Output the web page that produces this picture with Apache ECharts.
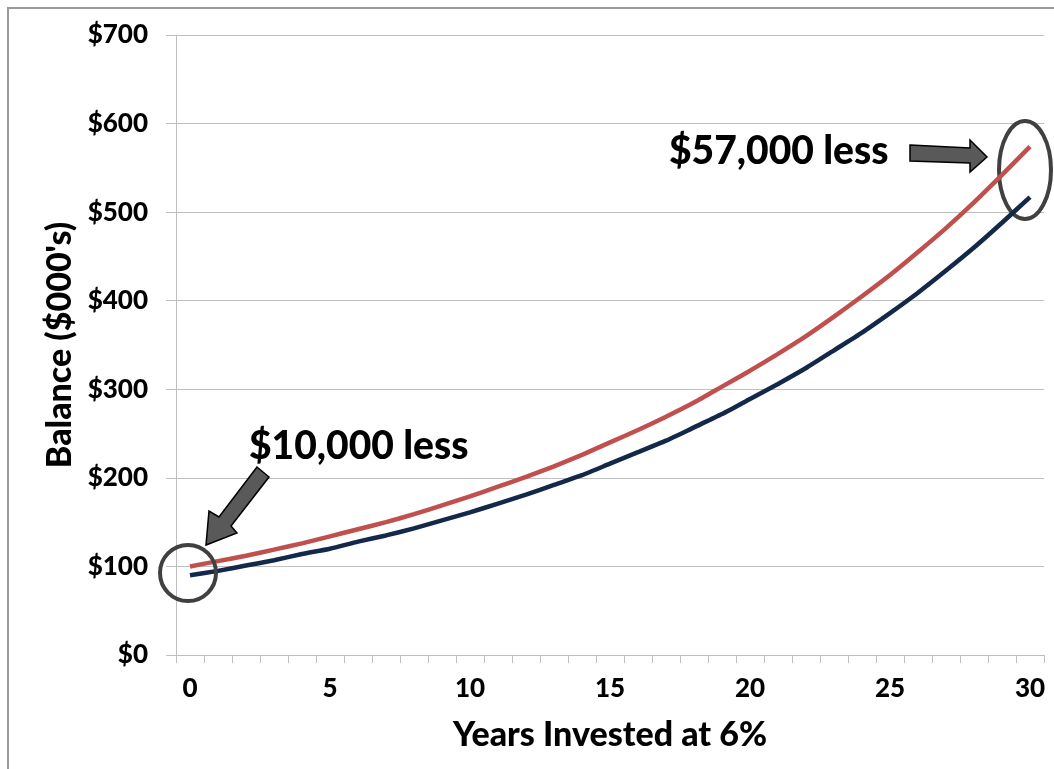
<!DOCTYPE html>
<html>
<head>
<meta charset="utf-8">
<script src="https://cdn.jsdelivr.net/npm/echarts@6/dist/echarts.min.js"></script>
<style>
  html, body { margin: 0; padding: 0; background: #fff; }
  #chart { width: 1054px; height: 769px; }
</style>
</head>
<body>
<div id="chart"></div>
<script>
// years on the x axis
const years = ['0','1','2','3','4','5','6','7','8','9','10','11','12','13','14','15',
  '16','17','18','19','20','21','22','23','24','25','26','27','28','29','30']

// balance in $000's
const balanceRed = [100, 106, 112, 119, 126, 134, 142, 150, 159, 169, 179, 190, 201, 213, 226, 240,
  254, 269, 285, 303, 321, 340, 360, 382, 405, 429, 455, 482, 511, 542, 574]
const balanceNavy = [90, 95, 101, 107, 114, 120, 128, 135, 143, 152, 161, 171, 181, 192, 203, 216,
  229, 242, 257, 272, 289, 306, 324, 344, 364, 386, 409, 434, 460, 488, 517]

const yTicks = [0, 100, 200, 300, 400, 500, 600, 700]

const font = 'Lato'
const chart = echarts.init(document.getElementById('chart'))

const option = {
  animation: false,
  grid: { left: 176, right: 10, top: 35, bottom: 114 },
  xAxis: {
    type: 'category',
    data: years,
    boundaryGap: true,
    name: 'Years Invested at 6%',
    nameLocation: 'middle',
    nameGap: 63,
    nameTextStyle: { fontFamily: font, fontWeight: 900, fontSize: 34, color: '#000' },
    axisLine: { lineStyle: { color: '#bfbfbf', width: 1 } },
    axisTick: { show: true, interval: 0, length: 8, lineStyle: { color: '#bfbfbf' } },
    axisLabel: { interval: 4, margin: 21, fontFamily: font, fontWeight: 900, fontSize: 26, color: '#000' },
    splitLine: { show: false }
  },
  yAxis: {
    type: 'value',
    min: yTicks[0],
    max: yTicks[yTicks.length - 1],
    interval: 100,
    name: "Balance ($000's)",
    nameLocation: 'middle',
    nameGap: 96,
    nameTextStyle: { fontFamily: font, fontWeight: 900, fontSize: 34, color: '#000' },
    axisLine: { show: true, lineStyle: { color: '#bfbfbf', width: 1 } },
    axisTick: { show: true, length: 10, lineStyle: { color: '#bfbfbf' } },
    axisLabel: { margin: 28, fontFamily: font, fontWeight: 900, fontSize: 26, color: '#000',
      formatter: v => '$' + v },
    splitLine: { lineStyle: { color: '#bfbfbf', width: 1 } }
  },
  series: [
    {
      name: 'Full',
      type: 'line',
      data: balanceRed,
      symbol: 'none',
      smooth: 0.2,
      z: 3,
      lineStyle: { color: '#c0504d', width: 4.5 }
    },
    {
      name: 'Less',
      type: 'line',
      data: balanceNavy,
      symbol: 'none',
      smooth: 0.2,
      z: 3,
      lineStyle: { color: '#14284a', width: 4.5 }
    }
  ],
  graphic: [
    // outer frame
    { type: 'rect', shape: { x: 8, y: 8, width: 1060, height: 780 }, silent: true, z: 0,
      style: { fill: 'none', stroke: '#9a9a9a', lineWidth: 2 } },
    // right ellipse (white fill hides the gridlines)
    { type: 'ellipse', shape: { cx: 1025, cy: 170, rx: 26, ry: 49 }, z: 1,
      style: { fill: '#fff', stroke: '#404040', lineWidth: 4 } },
    // left circle
    { type: 'circle', shape: { cx: 188, cy: 573, r: 28 }, z: 4,
      style: { fill: 'none', stroke: '#404040', lineWidth: 4 } },
    // arrows
    { type: 'polygon', z: 4,
      shape: { points: [[910,145],[970,148],[970,140],[987,157],[970,172],[970,163],[910,161]] },
      style: { fill: '#595959', stroke: '#000', lineWidth: 1.5 } },
    { type: 'polygon', z: 4,
      shape: { points: [[257,467],[219,517],[209,511],[206,545],[237,533],[231,526],[269,477]] },
      style: { fill: '#595959', stroke: '#000', lineWidth: 1.5 } },
    // annotation text
    { type: 'text', left: 669, top: 132, z: 4,
      style: { text: '$57,000 less', fontFamily: font, fontWeight: 900, fontSize: 39, fill: '#000' } },
    { type: 'text', left: 249, top: 427, z: 4,
      style: { text: '$10,000 less', fontFamily: font, fontWeight: 900, fontSize: 39, fill: '#000' } }
  ]
}

chart.setOption(option)
</script>
</body>
</html>
